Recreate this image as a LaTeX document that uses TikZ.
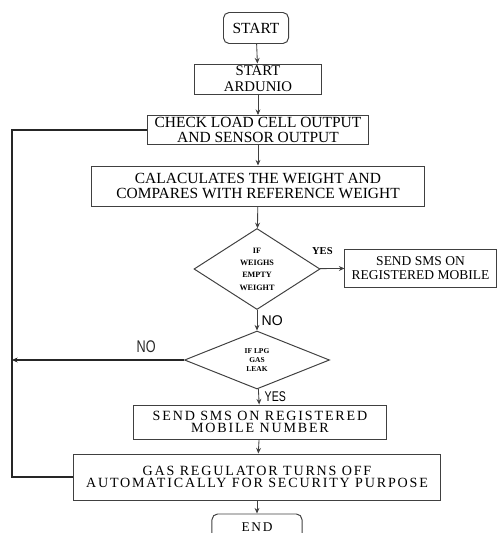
\documentclass[tikz,border=0pt]{standalone}
\usepackage{fontspec}
\setmainfont{Liberation Serif}
\setsansfont{Liberation Sans}
\newfontfamily\spacedfont[LetterSpace=13]{Liberation Serif}
\usetikzlibrary{shapes.geometric,arrows.meta}
\tikzset{
  box/.style={draw=black!75, line width=0.7pt, align=center, inner sep=0pt,
    font=\fontsize{11}{10.8}\selectfont},
  term/.style={box, rounded corners=4pt},
  decide/.style={diamond, draw=black!75, line width=0.7pt, align=center,
    inner sep=0pt, font=\bfseries\fontsize{5.8}{8.8}\selectfont},
  spaced/.style={box, font=\spacedfont\fontsize{10}{8.6}\selectfont},
  lab/.style={inner sep=0pt, font=\sffamily\fontsize{10}{10}\selectfont},
}
\begin{document}
\begin{tikzpicture}[x=0.025cm, y=-0.025cm, >={Stealth[length=4pt,width=3.5pt]}]
  \useasboundingbox (0,0) rectangle (497,533);
  \path
    (256,28) node[term, minimum width=1.625cm, minimum height=0.775cm] (start){START}
    (258,79) node[box, minimum width=3.15cm, minimum height=0.75cm,
      font=\fontsize{10.5}{11.4}\selectfont] (ard){START\\ARDUNIO}
    (258,130) node[box, minimum width=5.525cm, minimum height=0.725cm] (check){CHECK LOAD CELL OUTPUT\\AND SENSOR OUTPUT}
    (258,186) node[box, minimum width=8.3cm, minimum height=1cm] (calc){CALACULATES THE WEIGHT AND\\COMPARES WITH REFERENCE WEIGHT}
    (257,269) node[decide, minimum width=3.15cm, minimum height=2.025cm] (empty){IF\\WEIGHS\\EMPTY\\WEIGHT}
    (420.5,268) node[box, minimum width=3.775cm, minimum height=0.95cm,
      font=\fontsize{9.6}{10.2}\selectfont] (smsa){SEND SMS ON\\REGISTERED MOBILE}
    (257,360) node[decide, minimum width=3.625cm, minimum height=1.45cm,
      font=\bfseries\fontsize{5.3}{6.4}\selectfont] (leak){IF LPG\\GAS\\LEAK}
    (260,422) node[spaced, minimum width=6.325cm, minimum height=0.85cm] (smsb){SEND SMS ON REGISTERED\\MOBILE NUMBER}
    (257,477) node[spaced, minimum width=9.15cm, minimum height=1.15cm] (regulator){GAS REGULATOR TURNS OFF\\AUTOMATICALLY FOR SECURITY PURPOSE}
    (257,527) node[term, minimum width=2.25cm, minimum height=0.65cm,
      font=\spacedfont\fontsize{9.5}{9.5}\selectfont] (end){END};
  \coordinate (loopx) at (12,0);
  \begin{scope}[->, draw=black!75, line width=0.6pt]
    \draw (start) to (ard);
    \draw (ard) to (check);
    \draw (check) to (calc);
    \draw (calc) to (empty);
    \draw (empty) to node[pos=0.1, above=10pt, inner sep=0pt,
      font=\bfseries\fontsize{7.5}{7.5}\selectfont]{YES} (smsa);
    \draw (empty) to node[lab, right=3pt]{NO} (leak);
    \draw (leak) to node[lab, right=4pt, xscale=0.75]{YES} (smsb);
    \draw (smsb) to (regulator);
    \draw (regulator) to (end);
  \end{scope}
  \draw[black!85, line width=1pt] (regulator.west) -- (regulator.west -| loopx) |- (check.west);
  \draw[->, black!85, line width=1pt] (leak.west) -- (leak.west -| loopx)
    node[lab, pos=0.22, above=5pt, xscale=0.75, font=\sffamily\fontsize{12}{12}\selectfont]{NO};
\end{tikzpicture}
\end{document}
